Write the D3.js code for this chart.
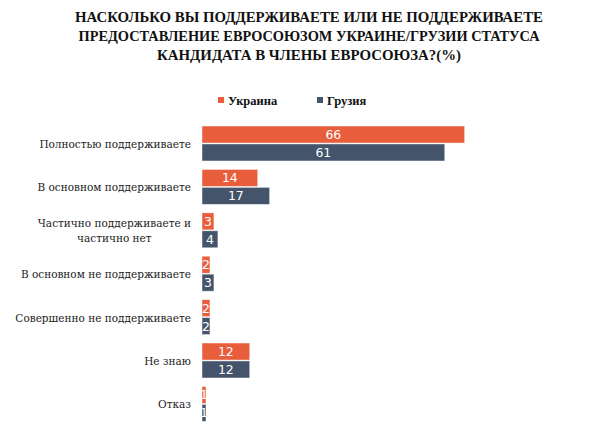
<!DOCTYPE html>
<html><head><meta charset="utf-8">
<script src="https://cdn.jsdelivr.net/npm/d3@7"></script>
<style>body{margin:0;background:#fff}</style>
</head><body>
<svg id="c" width="600" height="435"></svg>
<script>
const titleLines = ["НАСКОЛЬКО ВЫ ПОДДЕРЖИВАЕТЕ ИЛИ НЕ ПОДДЕРЖИВАЕТЕ",
  "ПРЕДОСТАВЛЕНИЕ ЕВРОСОЮЗОМ УКРАИНЕ/ГРУЗИИ СТАТУСА",
  "КАНДИДАТА В ЧЛЕНЫ ЕВРОСОЮЗА?(%)"];
const categories = ["Полностью поддерживаете","В основном поддерживаете",
  "Частично поддерживаете и|частично нет","В основном не поддерживаете",
  "Совершенно не поддерживаете","Не знаю","Отказ"];
const seriesNames = ["Украина","Грузия"];
const ukraine = [66,14,3,2,2,12,1];
const georgia = [61,17,4,3,2,12,1];
const colors = ["#E85D3B","#44546A"];

const svg = d3.select("#c");
const titleW = [468, 461, 304];
svg.append("g").selectAll("text").data(titleLines).join("text")
  .attr("x",309).attr("y",(d,i)=>21.5+i*19.3)
  .attr("text-anchor","middle")
  .attr("font-family","Liberation Serif").attr("font-weight","bold")
  .attr("font-size",15).attr("fill","#111")
  .attr("textLength",(d,i)=>titleW[i]).attr("lengthAdjust","spacingAndGlyphs")
  .text(d=>d);

// legend
const legX = [218, 317];
const leg = svg.append("g").selectAll("g").data(seriesNames).join("g")
  .attr("transform",(d,i)=>`translate(${legX[i]},97)`);
leg.append("rect").attr("width",6).attr("height",6).attr("fill",(d,i)=>colors[i]);
leg.append("text").attr("x",10).attr("y",7.5)
  .attr("font-family","Liberation Serif").attr("font-weight","bold")
  .attr("font-size",12.5).attr("fill","#111").text(d=>d);

const y = d3.scaleBand().domain(categories).range([126,421.4]).paddingInner(0.1935).paddingOuter(0);
const ys = d3.scaleBand().domain(seriesNames).range([0,y.bandwidth()]).paddingInner(0.05);
const x = d3.scaleLinear().domain([0,100]).range([202,600]);

const rows = categories.map((c,i)=>({c, vals:[ukraine[i],georgia[i]]}));
const g = svg.append("g").selectAll("g").data(rows).join("g")
  .attr("transform",d=>`translate(0,${y(d.c)})`);
const bars = g.selectAll("g").data(d=>d.vals.map((v,j)=>({v,s:seriesNames[j],j}))).join("g");
bars.append("rect")
  .attr("x",x(0)).attr("y",d=>ys(d.s))
  .attr("width",d=>x(d.v)-x(0)).attr("height",ys.bandwidth())
  .attr("fill",d=>colors[d.j]).attr("stroke","#fff").attr("stroke-opacity",0.6).attr("stroke-width",0.8);
bars.append("text")
  .attr("x",d=>(x(d.v)+x(0))/2).attr("y",d=>ys(d.s)+ys.bandwidth()/2+4.5)
  .attr("text-anchor","middle").attr("font-family","DejaVu Sans").attr("font-size",12.5)
  .attr("fill","#fff").text(d=>d.v);

// category labels
const lab = svg.append("g").selectAll("g").data(categories).join("g");
lab.each(function(d){
  const lines = d.split("|");
  const cy = y(d)+y.bandwidth()/2;
  const t = d3.select(this);
  let firstW = 0;
  lines.forEach((l,k)=>{
    const off = (k-(lines.length-1)/2)*15;
    const tx = t.append("text").attr("font-family","DejaVu Serif").attr("font-size",10.5)
      .attr("fill","#222").attr("y",cy+off+4.5).text(l);
    if(k===0){ tx.attr("x",191).attr("text-anchor","end"); firstW = tx.node().getComputedTextLength(); }
    else { tx.attr("x",191-firstW/2).attr("text-anchor","middle"); }
  });
});
</script>
</body></html>
